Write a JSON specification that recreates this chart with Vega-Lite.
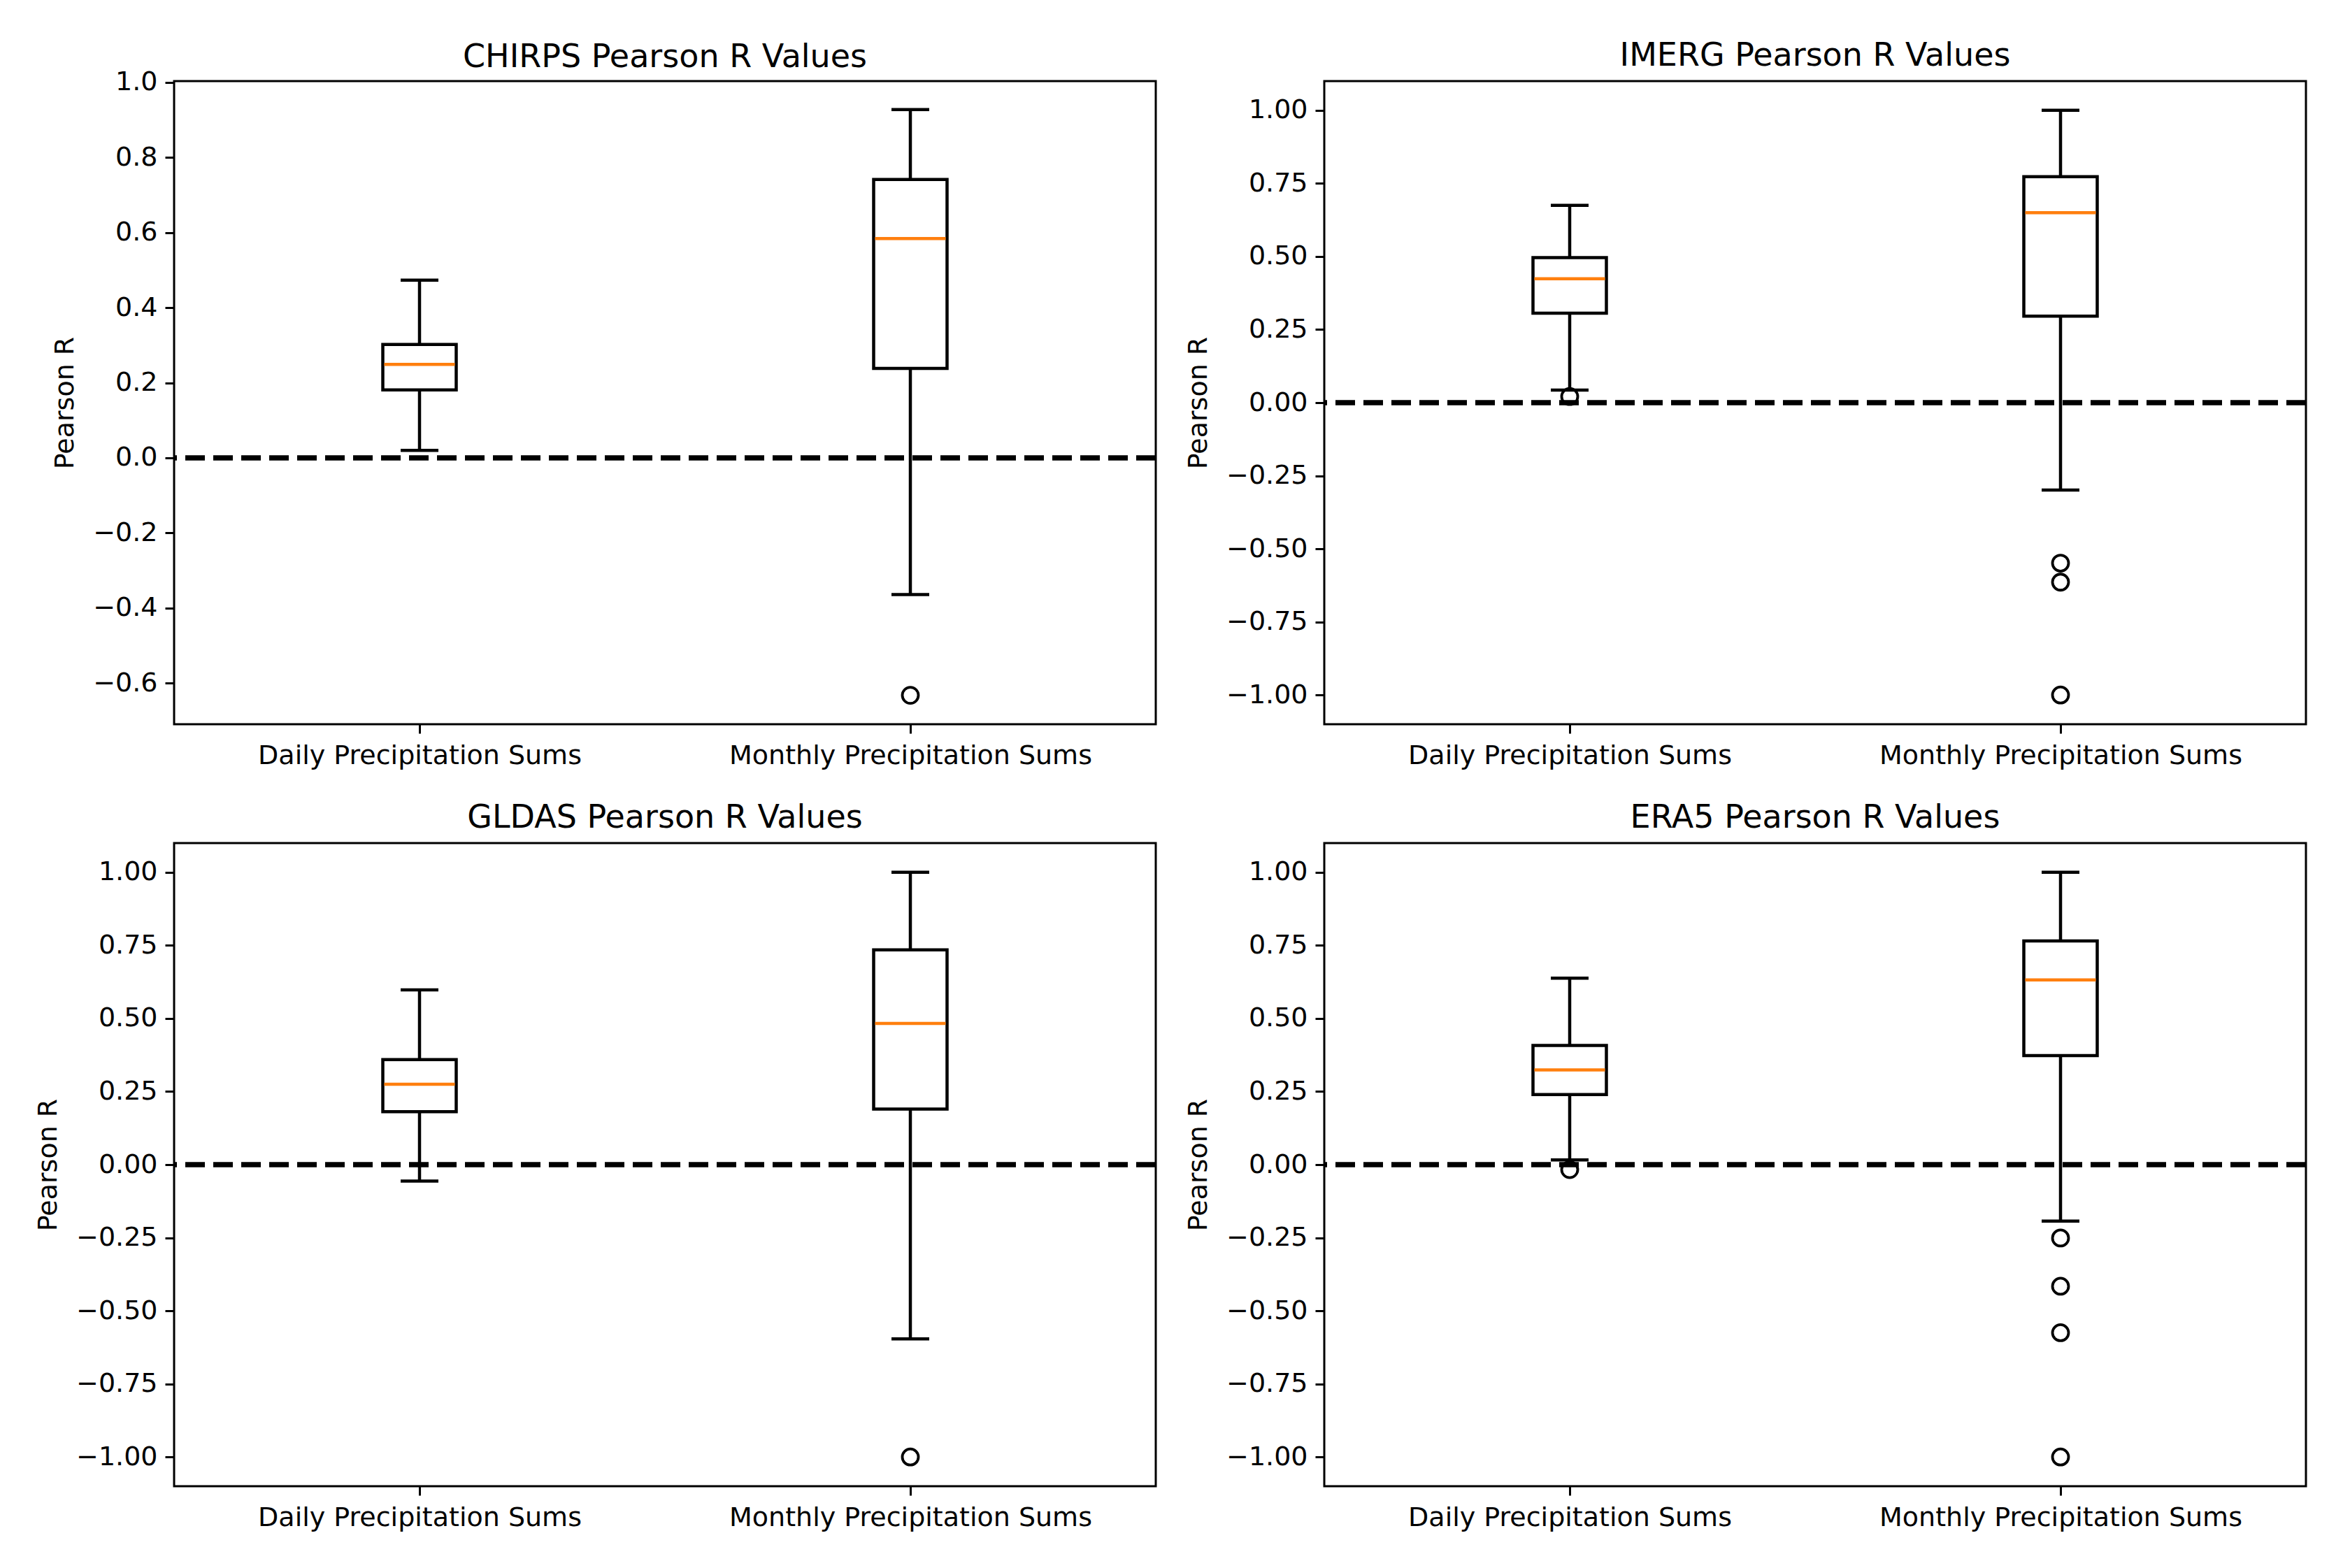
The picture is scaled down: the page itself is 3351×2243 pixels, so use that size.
{
  "$schema": "https://vega.github.io/schema/vega-lite/v6.json",
  "background": "white",
  "padding": {"left": 49, "top": 55, "right": 5, "bottom": 5},
  "datasets": {
    "stats": [
      {"panel": "CHIRPS", "cat": "Daily Precipitation Sums", "lo": 0.020, "q1": 0.181, "med": 0.249, "q3": 0.302, "hi": 0.473},
      {"panel": "CHIRPS", "cat": "Monthly Precipitation Sums", "lo": -0.364, "q1": 0.238, "med": 0.584, "q3": 0.741, "hi": 0.927},
      {"panel": "IMERG", "cat": "Daily Precipitation Sums", "lo": 0.043, "q1": 0.306, "med": 0.424, "q3": 0.496, "hi": 0.675},
      {"panel": "IMERG", "cat": "Monthly Precipitation Sums", "lo": -0.299, "q1": 0.296, "med": 0.650, "q3": 0.773, "hi": 1.0},
      {"panel": "GLDAS", "cat": "Daily Precipitation Sums", "lo": -0.056, "q1": 0.181, "med": 0.275, "q3": 0.359, "hi": 0.598},
      {"panel": "GLDAS", "cat": "Monthly Precipitation Sums", "lo": -0.596, "q1": 0.190, "med": 0.483, "q3": 0.735, "hi": 1.0},
      {"panel": "ERA5", "cat": "Daily Precipitation Sums", "lo": 0.016, "q1": 0.240, "med": 0.324, "q3": 0.408, "hi": 0.638},
      {"panel": "ERA5", "cat": "Monthly Precipitation Sums", "lo": -0.193, "q1": 0.373, "med": 0.632, "q3": 0.765, "hi": 1.0}
    ],
    "outliers": [
      {"panel": "CHIRPS", "cat": "Monthly Precipitation Sums", "value": -0.632},
      {"panel": "IMERG", "cat": "Daily Precipitation Sums", "value": 0.021},
      {"panel": "IMERG", "cat": "Monthly Precipitation Sums", "value": -0.549},
      {"panel": "IMERG", "cat": "Monthly Precipitation Sums", "value": -0.614},
      {"panel": "IMERG", "cat": "Monthly Precipitation Sums", "value": -1.0},
      {"panel": "GLDAS", "cat": "Monthly Precipitation Sums", "value": -1.0},
      {"panel": "ERA5", "cat": "Daily Precipitation Sums", "value": -0.017},
      {"panel": "ERA5", "cat": "Monthly Precipitation Sums", "value": -0.251},
      {"panel": "ERA5", "cat": "Monthly Precipitation Sums", "value": -0.416},
      {"panel": "ERA5", "cat": "Monthly Precipitation Sums", "value": -0.575},
      {"panel": "ERA5", "cat": "Monthly Precipitation Sums", "value": -1.0}
    ],
    "zero": [{"ref": 0}]
  },
  "columns": 2,
  "spacing": {"row": 170, "column": 241},
  "bounds": "flush",
  "concat": [
    {
      "title": {"text": "CHIRPS Pearson R Values", "offset": -7},
      "width": 1404, "height": 920,
      "layer": [
        {"data": {"name": "stats"}, "transform": [{"filter": "datum.panel === 'CHIRPS'"}],
         "mark": {"type": "rule", "color": "black", "strokeWidth": 4.5},
         "encoding": {
           "x": {"field": "cat", "type": "nominal", "scale": {"type": "point", "padding": 0.5}, "axis": {"title": null}},
           "y": {"field": "lo", "type": "quantitative", "scale": {"domain": [-0.709, 1.003], "nice": false, "zero": false},
                 "axis": {"title": "Pearson R", "values": [-0.6, -0.4, -0.2, 0, 0.2, 0.4, 0.6, 0.8, 1.0], "format": ".1f"}},
           "y2": {"field": "hi"}}},
        {"data": {"name": "stats"}, "transform": [{"filter": "datum.panel === 'CHIRPS'"}],
         "mark": {"type": "bar", "width": 105, "fill": "white", "stroke": "black", "strokeWidth": 4.5},
         "encoding": {"x": {"field": "cat", "type": "nominal"}, "y": {"field": "q1", "type": "quantitative"}, "y2": {"field": "q3"}}},
        {"data": {"name": "stats"}, "transform": [{"filter": "datum.panel === 'CHIRPS'"}],
         "mark": {"type": "tick", "color": "#ff7f0e", "size": 101, "thickness": 4.5, "orient": "horizontal", "opacity": 1},
         "encoding": {"x": {"field": "cat", "type": "nominal"}, "y": {"field": "med", "type": "quantitative"}}},
        {"data": {"name": "stats"}, "transform": [{"filter": "datum.panel === 'CHIRPS'"}],
         "mark": {"type": "tick", "color": "black", "size": 54, "thickness": 4.5, "orient": "horizontal", "opacity": 1},
         "encoding": {"x": {"field": "cat", "type": "nominal"}, "y": {"field": "lo", "type": "quantitative"}}},
        {"data": {"name": "stats"}, "transform": [{"filter": "datum.panel === 'CHIRPS'"}],
         "mark": {"type": "tick", "color": "black", "size": 54, "thickness": 4.5, "orient": "horizontal", "opacity": 1},
         "encoding": {"x": {"field": "cat", "type": "nominal"}, "y": {"field": "hi", "type": "quantitative"}}},
        {"data": {"name": "outliers"}, "transform": [{"filter": "datum.panel === 'CHIRPS'"}],
         "mark": {"type": "point", "shape": "circle", "size": 529, "stroke": "black", "strokeWidth": 3.8, "filled": false, "opacity": 1},
         "encoding": {"x": {"field": "cat", "type": "nominal"}, "y": {"field": "value", "type": "quantitative"}}},
        {"data": {"name": "zero"},
         "mark": {"type": "rule", "color": "black", "strokeWidth": 7.5, "strokeDash": [28, 12]},
         "encoding": {"y": {"field": "ref", "type": "quantitative"}}}
      ]
    },
    {
      "title": "IMERG Pearson R Values",
      "width": 1404, "height": 920,
      "layer": [
        {"data": {"name": "stats"}, "transform": [{"filter": "datum.panel === 'IMERG'"}],
         "mark": {"type": "rule", "color": "black", "strokeWidth": 4.5},
         "encoding": {
           "x": {"field": "cat", "type": "nominal", "scale": {"type": "point", "padding": 0.5}, "axis": {"title": null}},
           "y": {"field": "lo", "type": "quantitative", "scale": {"domain": [-1.1, 1.1], "nice": false, "zero": false},
                 "axis": {"title": "Pearson R", "values": [-1, -0.75, -0.5, -0.25, 0, 0.25, 0.5, 0.75, 1.0], "format": ".2f"}},
           "y2": {"field": "hi"}}},
        {"data": {"name": "stats"}, "transform": [{"filter": "datum.panel === 'IMERG'"}],
         "mark": {"type": "bar", "width": 105, "fill": "white", "stroke": "black", "strokeWidth": 4.5},
         "encoding": {"x": {"field": "cat", "type": "nominal"}, "y": {"field": "q1", "type": "quantitative"}, "y2": {"field": "q3"}}},
        {"data": {"name": "stats"}, "transform": [{"filter": "datum.panel === 'IMERG'"}],
         "mark": {"type": "tick", "color": "#ff7f0e", "size": 101, "thickness": 4.5, "orient": "horizontal", "opacity": 1},
         "encoding": {"x": {"field": "cat", "type": "nominal"}, "y": {"field": "med", "type": "quantitative"}}},
        {"data": {"name": "stats"}, "transform": [{"filter": "datum.panel === 'IMERG'"}],
         "mark": {"type": "tick", "color": "black", "size": 54, "thickness": 4.5, "orient": "horizontal", "opacity": 1},
         "encoding": {"x": {"field": "cat", "type": "nominal"}, "y": {"field": "lo", "type": "quantitative"}}},
        {"data": {"name": "stats"}, "transform": [{"filter": "datum.panel === 'IMERG'"}],
         "mark": {"type": "tick", "color": "black", "size": 54, "thickness": 4.5, "orient": "horizontal", "opacity": 1},
         "encoding": {"x": {"field": "cat", "type": "nominal"}, "y": {"field": "hi", "type": "quantitative"}}},
        {"data": {"name": "outliers"}, "transform": [{"filter": "datum.panel === 'IMERG'"}],
         "mark": {"type": "point", "shape": "circle", "size": 529, "stroke": "black", "strokeWidth": 3.8, "filled": false, "opacity": 1},
         "encoding": {"x": {"field": "cat", "type": "nominal"}, "y": {"field": "value", "type": "quantitative"}}},
        {"data": {"name": "zero"},
         "mark": {"type": "rule", "color": "black", "strokeWidth": 7.5, "strokeDash": [28, 12]},
         "encoding": {"y": {"field": "ref", "type": "quantitative"}}}
      ]
    },
    {
      "title": "GLDAS Pearson R Values",
      "width": 1404, "height": 920,
      "layer": [
        {"data": {"name": "stats"}, "transform": [{"filter": "datum.panel === 'GLDAS'"}],
         "mark": {"type": "rule", "color": "black", "strokeWidth": 4.5},
         "encoding": {
           "x": {"field": "cat", "type": "nominal", "scale": {"type": "point", "padding": 0.5}, "axis": {"title": null}},
           "y": {"field": "lo", "type": "quantitative", "scale": {"domain": [-1.1, 1.1], "nice": false, "zero": false},
                 "axis": {"title": "Pearson R", "values": [-1, -0.75, -0.5, -0.25, 0, 0.25, 0.5, 0.75, 1.0], "format": ".2f"}},
           "y2": {"field": "hi"}}},
        {"data": {"name": "stats"}, "transform": [{"filter": "datum.panel === 'GLDAS'"}],
         "mark": {"type": "bar", "width": 105, "fill": "white", "stroke": "black", "strokeWidth": 4.5},
         "encoding": {"x": {"field": "cat", "type": "nominal"}, "y": {"field": "q1", "type": "quantitative"}, "y2": {"field": "q3"}}},
        {"data": {"name": "stats"}, "transform": [{"filter": "datum.panel === 'GLDAS'"}],
         "mark": {"type": "tick", "color": "#ff7f0e", "size": 101, "thickness": 4.5, "orient": "horizontal", "opacity": 1},
         "encoding": {"x": {"field": "cat", "type": "nominal"}, "y": {"field": "med", "type": "quantitative"}}},
        {"data": {"name": "stats"}, "transform": [{"filter": "datum.panel === 'GLDAS'"}],
         "mark": {"type": "tick", "color": "black", "size": 54, "thickness": 4.5, "orient": "horizontal", "opacity": 1},
         "encoding": {"x": {"field": "cat", "type": "nominal"}, "y": {"field": "lo", "type": "quantitative"}}},
        {"data": {"name": "stats"}, "transform": [{"filter": "datum.panel === 'GLDAS'"}],
         "mark": {"type": "tick", "color": "black", "size": 54, "thickness": 4.5, "orient": "horizontal", "opacity": 1},
         "encoding": {"x": {"field": "cat", "type": "nominal"}, "y": {"field": "hi", "type": "quantitative"}}},
        {"data": {"name": "outliers"}, "transform": [{"filter": "datum.panel === 'GLDAS'"}],
         "mark": {"type": "point", "shape": "circle", "size": 529, "stroke": "black", "strokeWidth": 3.8, "filled": false, "opacity": 1},
         "encoding": {"x": {"field": "cat", "type": "nominal"}, "y": {"field": "value", "type": "quantitative"}}},
        {"data": {"name": "zero"},
         "mark": {"type": "rule", "color": "black", "strokeWidth": 7.5, "strokeDash": [28, 12]},
         "encoding": {"y": {"field": "ref", "type": "quantitative"}}}
      ]
    },
    {
      "title": "ERA5 Pearson R Values",
      "width": 1404, "height": 920,
      "layer": [
        {"data": {"name": "stats"}, "transform": [{"filter": "datum.panel === 'ERA5'"}],
         "mark": {"type": "rule", "color": "black", "strokeWidth": 4.5},
         "encoding": {
           "x": {"field": "cat", "type": "nominal", "scale": {"type": "point", "padding": 0.5}, "axis": {"title": null}},
           "y": {"field": "lo", "type": "quantitative", "scale": {"domain": [-1.1, 1.1], "nice": false, "zero": false},
                 "axis": {"title": "Pearson R", "values": [-1, -0.75, -0.5, -0.25, 0, 0.25, 0.5, 0.75, 1.0], "format": ".2f"}},
           "y2": {"field": "hi"}}},
        {"data": {"name": "stats"}, "transform": [{"filter": "datum.panel === 'ERA5'"}],
         "mark": {"type": "bar", "width": 105, "fill": "white", "stroke": "black", "strokeWidth": 4.5},
         "encoding": {"x": {"field": "cat", "type": "nominal"}, "y": {"field": "q1", "type": "quantitative"}, "y2": {"field": "q3"}}},
        {"data": {"name": "stats"}, "transform": [{"filter": "datum.panel === 'ERA5'"}],
         "mark": {"type": "tick", "color": "#ff7f0e", "size": 101, "thickness": 4.5, "orient": "horizontal", "opacity": 1},
         "encoding": {"x": {"field": "cat", "type": "nominal"}, "y": {"field": "med", "type": "quantitative"}}},
        {"data": {"name": "stats"}, "transform": [{"filter": "datum.panel === 'ERA5'"}],
         "mark": {"type": "tick", "color": "black", "size": 54, "thickness": 4.5, "orient": "horizontal", "opacity": 1},
         "encoding": {"x": {"field": "cat", "type": "nominal"}, "y": {"field": "lo", "type": "quantitative"}}},
        {"data": {"name": "stats"}, "transform": [{"filter": "datum.panel === 'ERA5'"}],
         "mark": {"type": "tick", "color": "black", "size": 54, "thickness": 4.5, "orient": "horizontal", "opacity": 1},
         "encoding": {"x": {"field": "cat", "type": "nominal"}, "y": {"field": "hi", "type": "quantitative"}}},
        {"data": {"name": "outliers"}, "transform": [{"filter": "datum.panel === 'ERA5'"}],
         "mark": {"type": "point", "shape": "circle", "size": 529, "stroke": "black", "strokeWidth": 3.8, "filled": false, "opacity": 1},
         "encoding": {"x": {"field": "cat", "type": "nominal"}, "y": {"field": "value", "type": "quantitative"}}},
        {"data": {"name": "zero"},
         "mark": {"type": "rule", "color": "black", "strokeWidth": 7.5, "strokeDash": [28, 12]},
         "encoding": {"y": {"field": "ref", "type": "quantitative"}}}
      ]
    }
  ],
  "config": {
    "view": {"stroke": "black", "strokeWidth": 3},
    "axis": {
      "labelFont": "DejaVu Sans", "labelFontSize": 38, "labelColor": "black", "labelLimit": 0,
      "titleFont": "DejaVu Sans", "titleFontSize": 38, "titleFontWeight": "normal", "titleColor": "black",
      "tickColor": "black", "tickSize": 13, "tickWidth": 3, "domain": false, "grid": false
    },
    "axisX": {"labelAngle": 0, "labelPadding": 13},
    "axisY": {"labelPadding": 11, "titlePadding": 20},
    "title": {"font": "DejaVu Sans", "fontSize": 46, "fontWeight": "normal", "color": "black", "offset": 12, "anchor": "middle"}
  }
}
